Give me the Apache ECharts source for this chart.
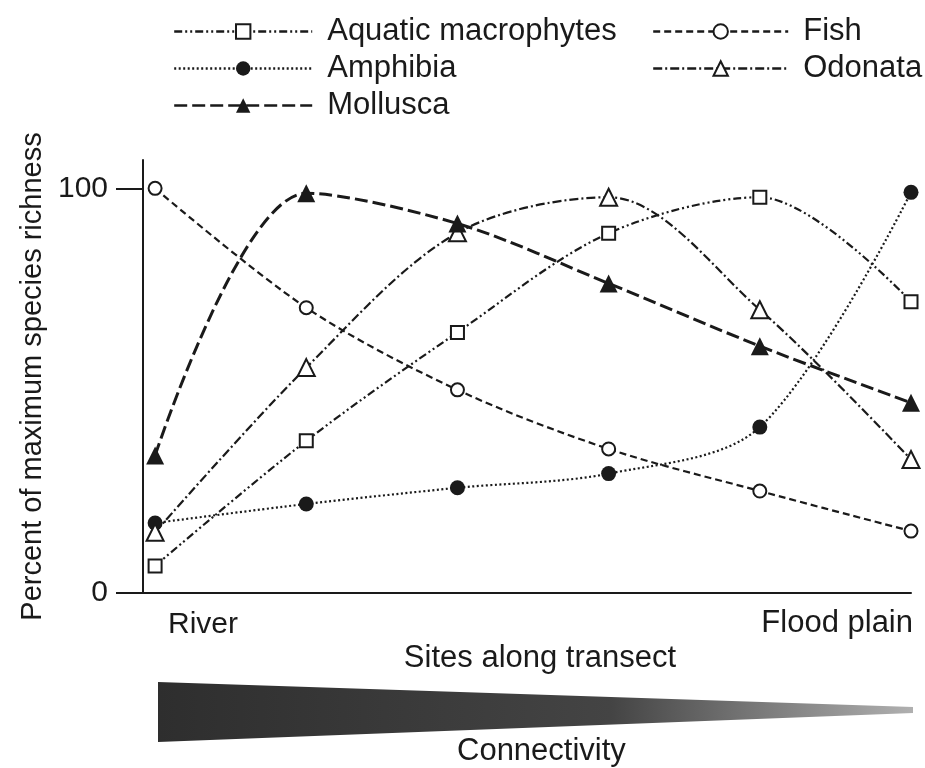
<!DOCTYPE html>
<html>
<head>
<meta charset="utf-8">
<script src="https://cdn.jsdelivr.net/npm/echarts@6/dist/echarts.min.js"></script>
<style>
html,body{margin:0;padding:0;background:#fff;}
#chart{width:925px;height:768px;}
</style>
</head>
<body>
<div id="chart"></div>
<script>
// ---- data ----
const sites = [0, 1, 2, 3, 4, 5];               // sites along transect, River -> Flood plain
const siteEndLabels = ['River', 'Flood plain'];
const yTicks = [0, 100];
const seriesNames = ['Aquatic macrophytes', 'Fish', 'Amphibia', 'Odonata', 'Mollusca'];
const macrophytes = [6.7, 37.6, 64.4, 88.9, 97.8, 72];
const fish        = [100, 70.5, 50.2, 35.6, 25.2, 15.3];
const amphibia    = [17.3, 22, 26, 29.5, 41, 99];
const odonata     = [15, 55.7, 89, 97.8, 70, 33];
const mollusca    = [34, 98.8, 91.3, 76.5, 61, 47];

const FONT = '"Liberation Sans", Arial, Helvetica, sans-serif';
const INK = '#1a1a1a';

function pairs(vals) { return sites.map((s, i) => [s, vals[i]]); }

function mk(name, vals, symbol, size, filled, dash, width) {
  return {
    name: name,
    type: 'line',
    data: pairs(vals),
    smooth: 0.32,
    clip: false,
    symbol: symbol,
    symbolSize: size,
    showAllSymbol: true,
    lineStyle: { color: INK, width: width, type: dash },
    itemStyle: { color: filled ? INK : '#fff', borderColor: INK, borderWidth: filled ? 0 : 2 },
    emphasis: { disabled: true },
    z: 3
  };
}

const chart = echarts.init(document.getElementById('chart'), null, { renderer: 'canvas' });

const legendText = { fontSize: 31, fontFamily: FONT, color: INK, padding: [0, 0, 0, 10], lineHeight: 30 };

chart.setOption({
  animation: false,
  backgroundColor: '#fff',
  grid: { left: 143, right: 14, top: 160, bottom: 175, containLabel: false },
  legend: [
    {
      data: ['Aquatic macrophytes', 'Amphibia', 'Mollusca'],
      orient: 'vertical', left: 168, top: 11,
      itemWidth: 138, itemHeight: 18, itemGap: 6,
      textStyle: legendText, selectedMode: false,
      lineStyle: { width: 2.4 }
    },
    {
      data: ['Fish', 'Odonata'],
      orient: 'vertical', left: 647, top: 11,
      itemWidth: 135, itemHeight: 18, itemGap: 6,
      textStyle: legendText, selectedMode: false,
      lineStyle: { width: 2.4 }
    }
  ],
  xAxis: {
    type: 'value',
    min: -0.08, max: 5,
    axisLine: { show: true, onZero: false, lineStyle: { color: INK, width: 2 } },
    axisTick: { show: false },
    splitLine: { show: false },
    axisLabel: { show: false },
    name: 'Sites along transect',
    nameLocation: 'middle',
    nameGap: 50,
    nameTextStyle: { fontSize: 31, fontFamily: FONT, color: INK, padding: [0, 0, 0, 26] }
  },
  yAxis: {
    type: 'value',
    min: 0, max: 107,
    axisLine: { show: true, onZero: false, lineStyle: { color: INK, width: 2 } },
    axisTick: { show: true, length: 27, lineStyle: { color: INK, width: 2 }, customValues: yTicks },
    splitLine: { show: false },
    axisLabel: { margin: 35, fontSize: 30, fontFamily: FONT, color: INK, customValues: yTicks },
    name: 'Percent of maximum species richness',
    nameLocation: 'middle',
    nameGap: 94,
    nameTextStyle: { fontSize: 29, fontFamily: FONT, color: INK }
  },
  graphic: [
    { type: 'text', left: 168, top: 610, style: { text: siteEndLabels[0], font: '30px ' + FONT, fill: INK } },
    { type: 'text', right: 12, top: 608, style: { text: siteEndLabels[1], font: '31px ' + FONT, fill: INK } },
    {
      type: 'polygon',
      shape: { points: [[158, 682], [913, 707], [913, 713], [158, 742]] },
      style: {
        fill: new echarts.graphic.LinearGradient(0, 0, 1, 0, [
          { offset: 0, color: '#2e2e2e' },
          { offset: 0.6, color: '#444' },
          { offset: 1, color: '#b0b0b0' }
        ])
      }
    },
    { type: 'text', left: 457, top: 736, style: { text: 'Connectivity', font: '31px ' + FONT, fill: INK } }
  ],
  series: [
    mk(seriesNames[0], macrophytes, 'rect', 13, false, [8, 3, 2, 3, 2, 3], 2.2),
    mk(seriesNames[1], fish, 'circle', 13, false, [7, 4], 2.2),
    mk(seriesNames[2], amphibia, 'circle', 15, true, [2, 2.5], 2.2),
    mk(seriesNames[3], odonata, 'triangle', 17, false, [9, 3, 2, 3], 2.2),
    mk(seriesNames[4], mollusca, 'triangle', 18, true, [13, 5], 3)
  ]
});
</script>
</body>
</html>
